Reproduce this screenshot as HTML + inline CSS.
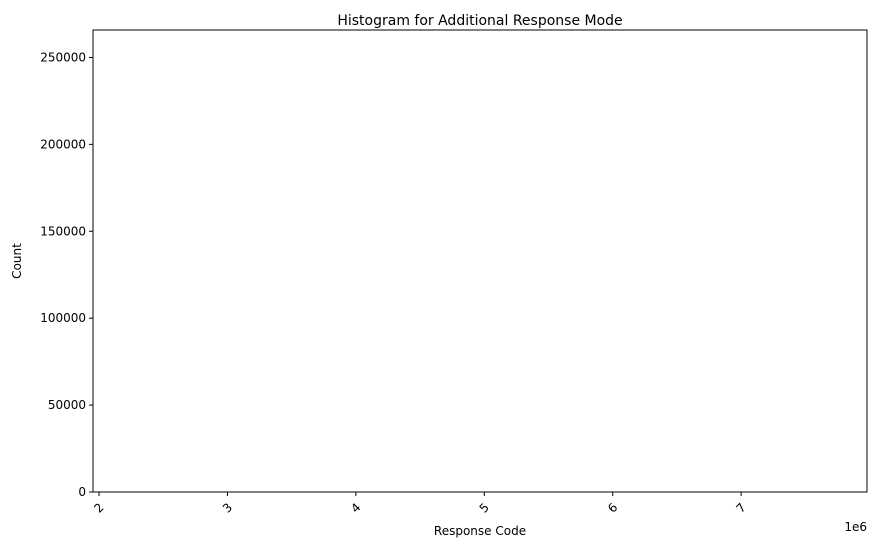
<!DOCTYPE html>
<html><head><meta charset="utf-8"><style>
body{margin:0;background:#fff;}
svg text{font-family:"DejaVu Sans","Liberation Sans",sans-serif;fill:#000;}
</style></head><body>
<svg width="877" height="547" xmlns="http://www.w3.org/2000/svg" id="chart">
<rect width="877" height="547" fill="#fff"/>
<text x="480" y="25" font-size="14" text-anchor="middle">Histogram for Additional Response Mode</text>
<text x="480" y="535" font-size="12" text-anchor="middle">Response Code</text>
<text transform="translate(21,261) rotate(-90)" font-size="12" text-anchor="middle">Count</text>
<text x="867" y="531" font-size="12" text-anchor="end">1e6</text>
<g id="bars"></g>
<g id="axes"></g>
<rect x="93" y="30" width="774" height="462" fill="none" stroke="#000" stroke-width="1"/>
</svg>
<script>
const binStarts = [2000000, 2000001];
const binCounts = [253000, 10];
const binWidth = 1;
const xTicks = [2, 3, 4, 5, 6, 7];
const yTicks = [0, 50000, 100000, 150000, 200000, 250000];

const L=93,R=867,T=30,B=492;
const xmin=1.953e6,xmax=7.98e6,ymin=0,ymax=265800;
const xs=v=>L+(v-xmin)/(xmax-xmin)*(R-L);
const ys=v=>B-(v-ymin)/(ymax-ymin)*(B-T);
const NS="http://www.w3.org/2000/svg";
const bars=document.getElementById('bars'),axes=document.getElementById('axes');
binStarts.forEach((s,i)=>{
  const r=document.createElementNS(NS,'rect');
  
  
  const x0=xs(s),x1=xs(s+binWidth);
  r.setAttribute('x',x0);r.setAttribute('width',Math.max(0,x1-x0));
  r.setAttribute('y',ys(binCounts[i]));r.setAttribute('height',B-ys(binCounts[i]));
  r.setAttribute('fill','#1f77b4');
  bars.appendChild(r);
});
xTicks.forEach(t=>{
  const x=xs(t*1e6);
  const l=document.createElementNS(NS,'line');
  
  
  l.setAttribute('x1',x);l.setAttribute('x2',x);l.setAttribute('y1',B);l.setAttribute('y2',B+4);l.setAttribute('stroke','#000');
  axes.appendChild(l);
  const tx=document.createElementNS(NS,'text');
  
  
  tx.setAttribute('font-size','12');tx.setAttribute('text-anchor','middle');
  tx.setAttribute('transform',`translate(${x},${B+16}) rotate(-45)`);
  tx.setAttribute('dy','4');
  tx.textContent=t;
  axes.appendChild(tx);
});
yTicks.forEach(t=>{
  const y=ys(t);
  const l=document.createElementNS(NS,'line');
  
  
  l.setAttribute('x1',L-4);l.setAttribute('x2',L);l.setAttribute('y1',y);l.setAttribute('y2',y);l.setAttribute('stroke','#000');
  axes.appendChild(l);
  const tx=document.createElementNS(NS,'text');
  
  
  tx.setAttribute('font-size','12');tx.setAttribute('text-anchor','end');
  tx.setAttribute('x',L-7);tx.setAttribute('y',y+4);
  tx.textContent=t;
  axes.appendChild(tx);
});
</script>
</body></html>
